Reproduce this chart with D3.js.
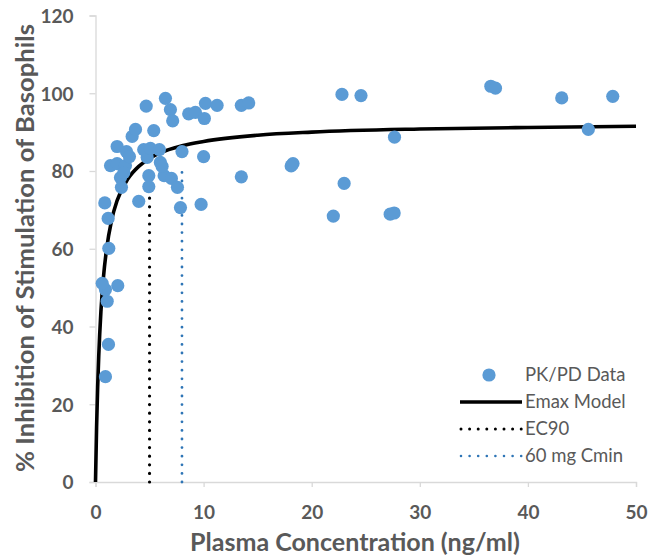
<!DOCTYPE html>
<html>
<head>
<meta charset="utf-8">
<script src="https://cdn.jsdelivr.net/npm/d3@7"></script>
<style>
  html, body { margin: 0; padding: 0; background: #fff; }
  svg { display: block; }
  text { font-family: Lato, "Open Sans", sans-serif; fill: #595959; }
</style>
</head>
<body>
<svg id="chart" width="650" height="558"></svg>
<script>
// ---- Data ----
const pkConc = [0.92, 1.20, 1.08, 0.92, 0.62, 2.06, 1.23, 1.17, 0.86, 4.0, 7.86, 9.77,
  1.39, 2.0, 2.77, 2.31, 2.62, 2.4, 4.93, 4.93, 6.35, 7.02, 7.58, 6.0, 6.16, 4.78,
  4.46, 5.08, 5.91, 8.0, 10.0, 2.0, 2.87, 3.14, 3.39, 3.7, 5.39, 4.69, 6.47, 6.93,
  7.14, 8.62, 9.24, 10.17, 11.25, 10.07, 13.49, 14.17, 13.49, 18.27, 18.1, 23.0,
  22.0, 22.8, 24.56, 27.66, 27.26, 27.63, 36.57, 37.0, 43.13, 47.85, 45.59];
const pkInhib = [27.1, 35.4, 46.5, 49.5, 51.1, 50.5, 60.1, 67.8, 71.8, 72.2, 70.6, 71.4,
  81.4, 81.9, 81.4, 78.3, 79.6, 75.8, 78.8, 76.0, 78.8, 78.1, 75.8, 82.2, 81.2, 83.5,
  85.5, 85.8, 85.5, 85.0, 83.7, 86.3, 85.0, 83.7, 88.9, 90.7, 90.4, 96.7, 98.7, 95.8,
  92.9, 94.7, 95.1, 97.4, 96.9, 93.5, 96.9, 97.5, 78.5, 81.9, 81.3, 76.8,
  68.4, 99.7, 99.4, 88.7, 68.9, 69.2, 101.8, 101.3, 98.8, 99.2, 90.7];

// Emax model curve
const modelConc = [0, 0.1, 0.2, 0.3, 0.5, 0.75, 1, 1.5, 2, 3, 4, 5, 6, 8, 10, 15, 20, 30, 40, 50];
const modelInhib = [0, 14.1, 24.5, 32.4, 43.8, 53.1, 59.4, 67.5, 72.4, 78.0, 81.2, 83.2, 84.7, 86.5, 87.6, 89.2, 90.0, 90.8, 91.2, 91.5];

// vertical reference lines: [concentration, top value]
const ec90 = [5.0, 81.5];
const cmin60 = [8.0, 81.5];

const xTicks = [0, 10, 20, 30, 40, 50];
const yTicks = [0, 20, 40, 60, 80, 100, 120];

const legendLabels = ["PK/PD Data", "Emax Model", "EC90", "60 mg Cmin"];

// ---- Drawing ----
const svg = d3.select("#chart");
const x = d3.scaleLinear().domain([0, 50]).range([95.5, 636]);
const y = d3.scaleLinear().domain([0, 120]).range([482, 15.5]);

const axisColor = "#d9d9d9";
const FONT = "Lato, 'Open Sans', sans-serif";

function fitWidth(sel, target) {
  sel.style("font-size", "20px");
  const w = sel.node().getComputedTextLength();
  sel.style("font-size", (20 * target / w).toFixed(2) + "px");
}

// axes
const xAxis = svg.append("g").attr("transform", `translate(0,${y(0)})`)
  .call(d3.axisBottom(x).tickValues(xTicks).tickSize(5).tickPadding(19));
const yAxis = svg.append("g").attr("transform", `translate(${x(0)},0)`)
  .call(d3.axisLeft(y).tickValues(yTicks).tickSize(6).tickPadding(16));
[xAxis, yAxis].forEach(g => {
  g.select(".domain").attr("stroke", axisColor).attr("stroke-width", 1.3);
  g.selectAll(".tick line").attr("stroke", axisColor).attr("stroke-width", 1.3);
  g.selectAll(".tick text").attr("fill", "#595959")
    .style("font-family", FONT)
    .style("font-size", "19px").style("font-weight", "bold");
});
yAxis.selectAll(".tick text").attr("dy", "0.36em");
xAxis.selectAll(".tick text").attr("dy", "0.68em");

// vertical reference lines
svg.append("line")
  .attr("x1", x(ec90[0])).attr("x2", x(ec90[0]))
  .attr("y1", y(0)).attr("y2", y(ec90[1]))
  .attr("stroke", "#000").attr("stroke-width", 3.2)
  .attr("stroke-linecap", "round").attr("stroke-dasharray", "0 8.6");
svg.append("line")
  .attr("x1", x(cmin60[0])).attr("x2", x(cmin60[0]))
  .attr("y1", y(0)).attr("y2", y(cmin60[1]))
  .attr("stroke", "#2e75b6").attr("stroke-width", 2.8)
  .attr("stroke-linecap", "round").attr("stroke-dasharray", "0 8.6");

// Emax model line
const line = d3.line().x((d, i) => x(modelConc[i])).y(d => y(d)).curve(d3.curveMonotoneX);
svg.append("path").datum(modelInhib)
  .attr("d", line).attr("fill", "none")
  .attr("stroke", "#000").attr("stroke-width", 3.6);

// points
svg.append("g").selectAll("circle").data(pkConc).join("circle")
  .attr("cx", d => x(d)).attr("cy", (d, i) => y(pkInhib[i]))
  .attr("r", 6.6).attr("fill", "#5b9bd5");

// axis titles
const xt = svg.append("text")
  .attr("x", 355).attr("y", 551).attr("text-anchor", "middle")
  .style("font-weight", "bold")
  .text("Plasma Concentration (ng/ml)");
fitWidth(xt, 330);
const yt = svg.append("text")
  .attr("transform", "translate(34,248) rotate(-90)")
  .attr("text-anchor", "middle")
  .style("font-weight", "bold")
  .text("% Inhibition of Stimulation of Basophils");
fitWidth(yt, 448);

// legend
const lg = svg.append("g");
const ly = [375, 402, 429, 456];
lg.append("circle").attr("cx", 489).attr("cy", ly[0]).attr("r", 6.6).attr("fill", "#5b9bd5");
lg.append("line").attr("x1", 460).attr("x2", 522).attr("y1", ly[1]).attr("y2", ly[1])
  .attr("stroke", "#000").attr("stroke-width", 3.6);
lg.append("line").attr("x1", 461).attr("x2", 522).attr("y1", ly[2]).attr("y2", ly[2])
  .attr("stroke", "#000").attr("stroke-width", 3).attr("stroke-linecap", "round")
  .attr("stroke-dasharray", "0 8.6");
lg.append("line").attr("x1", 461).attr("x2", 522).attr("y1", ly[3]).attr("y2", ly[3])
  .attr("stroke", "#2e75b6").attr("stroke-width", 2.6).attr("stroke-linecap", "round")
  .attr("stroke-dasharray", "0 8.6");
lg.selectAll("text.lab").data(legendLabels).join("text")
  .attr("class", "lab")
  .attr("x", 525).attr("y", (d, i) => ly[i]).attr("dy", "0.35em")
  .style("font-size", "18.5px")
  .text(d => d);
</script>
</body>
</html>
